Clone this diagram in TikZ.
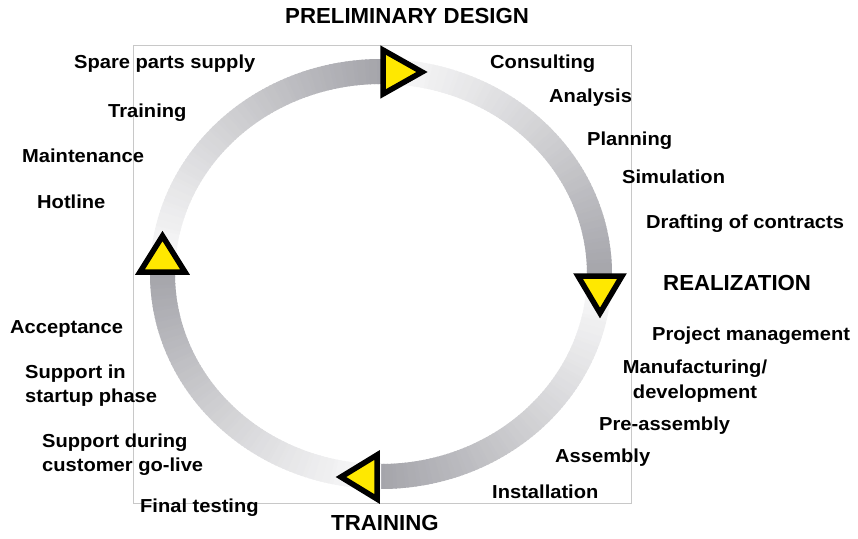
\documentclass[tikz,border=0pt]{standalone}
\usepackage{fontspec}
\setmainfont{Liberation Sans}[FakeStretch=1.07]
\newfontfamily\hdfont{Liberation Sans}[FakeStretch=1.02]
\definecolor{bandc}{RGB}{100,100,110}
\definecolor{arrowyellow}{RGB}{255,232,0}
\definecolor{framegray}{RGB}{200,200,200}
\begin{document}
\begin{tikzpicture}[x=1pt,y=-1pt,
  lbl/.style={anchor=base west, inner sep=0pt, font=\fontsize{18.8}{24}\selectfont\bfseries},
  lblc/.style={anchor=base, inner sep=0pt, font=\fontsize{18.8}{24}\selectfont\bfseries},
  hd/.style={anchor=base west, inner sep=0pt, font=\hdfont\fontsize{21.8}{26}\selectfont\bfseries},
  tri/.style={fill=arrowyellow, draw=black, line width=5.5pt, line join=miter}]
\useasboundingbox (0,0) rectangle (858,538);
% frame
\draw[framegray, line width=1pt] (133,45) rectangle (631,503);
% ring band with gradient per quadrant
\foreach \k in {0,1,2,3} {
  \foreach \i in {0,...,89} {
    \pgfmathsetmacro\a{-90+90*\k+\i}
    \pgfmathtruncatemacro\p{3+56*((\i+0.5)/90)^1.1}
    \fill[bandc!\p!white] ({381+231*cos(\a)},{274+215*sin(\a)}) -- ({381+231*cos(\a+1.4)},{274+215*sin(\a+1.4)}) -- ({381+206*cos(\a+1.4)},{274+190*sin(\a+1.4)}) -- ({381+206*cos(\a)},{274+190*sin(\a)}) -- cycle;
  }
}
% arrow heads
\draw[tri] (383,50) -- (383,94) -- (422,72) -- cycle;
\draw[tri] (578,276) -- (622,276) -- (600,313) -- cycle;
\draw[tri] (377,455) -- (377,499) -- (341,477) -- cycle;
\draw[tri] (140,272) -- (185,272) -- (162.5,236) -- cycle;
% headings
\node[hd] (pd) at (285,23) {PRELIMINARY DESIGN};
\node[hd] (re) at (663,290) {REALIZATION};
\node[hd] (tr) at (331,530) {TRAINING};
% right top labels
\node[lbl] (cons) at (490,68) {Consulting};
\node[lbl] (anal) at (549,102) {Analysis};
\node[lbl] (plan) at (587,145) {Planning};
\node[lbl] (simu) at (622,183) {Simulation};
\node[lbl] (draf) at (646,228) {Drafting of contracts};
% right bottom labels
\node[lbl] (proj) at (652,340) {Project management};
\node[lblc] (man1) at (695,373) {Manufacturing/};
\node[lblc] (man2) at (695,398) {development};
\node[lbl] (prea) at (599,430) {Pre-assembly};
\node[lbl] (asse) at (555,462) {Assembly};
\node[lbl] (inst) at (492,498) {Installation};
% left bottom labels
\node[lbl] (fint) at (140,512) {Final testing};
\node[lbl] (sdu1) at (42,447) {Support during};
\node[lbl] (sdu2) at (42,471) {customer go-live};
\node[lbl] (sst1) at (25,378) {Support in};
\node[lbl] (sst2) at (25,402) {startup phase};
\node[lbl] (acce) at (10,333) {Acceptance};
% left top labels
\node[lbl] (hotl) at (37,208) {Hotline};
\node[lbl] (main) at (22,162) {Maintenance};
\node[lbl] (trai) at (108,117) {Training};
\node[lbl] (spar) at (74,68) {Spare parts supply};
\end{tikzpicture}
\end{document}
